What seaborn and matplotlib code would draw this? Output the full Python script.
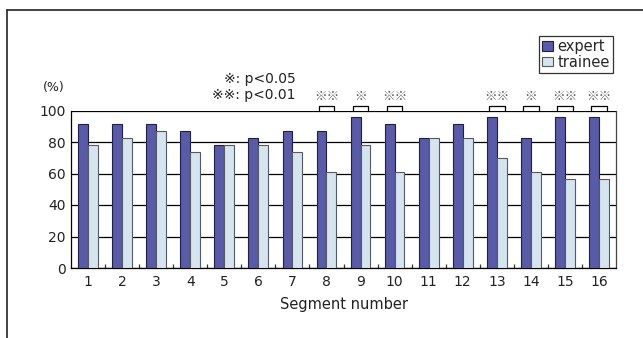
import matplotlib
matplotlib.use("Agg")
import matplotlib.pyplot as plt
import seaborn as sns
import pandas as pd

segments = [str(i) for i in range(1, 17)]
expert = [91.3, 91.3, 91.3, 87.0, 78.3, 82.6, 87.0, 87.0,
          95.7, 91.3, 82.6, 91.3, 95.7, 82.6, 95.7, 95.7]
trainee = [78.3, 82.6, 87.0, 73.9, 78.3, 78.3, 73.9, 60.9,
           78.3, 60.9, 82.6, 82.6, 69.6, 60.9, 56.5, 56.5]
# significance marks per segment ("" = not significant)
marks = ["", "", "", "", "", "", "", "※※",
         "※", "※※", "", "", "※※", "※", "※※", "※※"]
groups = ["expert", "trainee"]
y_ticks = [0, 20, 40, 60, 80, 100]

sns.set_theme(style="white")
plt.rcParams["font.family"] = ["DejaVu Sans", "Noto Sans CJK JP"]
cjk = ["Noto Sans CJK JP", "DejaVu Sans"]

df = pd.DataFrame({
    "segment": segments * 2,
    "value": expert + trainee,
    "group": [groups[0]] * len(segments) + [groups[1]] * len(segments),
})

fig = plt.figure(figsize=(6.43, 3.38), dpi=100)
ax = fig.add_axes([71 / 643, 1 - 268 / 338, (616 - 71) / 643, (268 - 110.5) / 338])

palette = {"expert": "#5a5ba6", "trainee": "#d5e4ee"}
sns.barplot(data=df, x="segment", y="value", hue="group", palette=palette,
            width=0.58, gap=0, saturation=1, ax=ax, zorder=3, legend=True)

edge_cols = {0: "#1e1f4a", 1: "#555a60"}
for i, cont in enumerate(ax.containers):
    for bar in cont:
        bar.set_edgecolor(edge_cols[i])
        bar.set_linewidth(0.8)

ax.set_ylim(0, 100)
ax.set_xlim(-0.5, len(segments) - 0.5)
ax.set_yticks(y_ticks)
ax.yaxis.grid(True, color="black", linewidth=0.9, zorder=0)
ax.set_axisbelow(True)
for side in ["left", "bottom", "right"]:
    ax.spines[side].set_visible(True)
    ax.spines[side].set_color("black")
    ax.spines[side].set_linewidth(0.9)
ax.spines["top"].set_visible(False)
ax.spines["right"].set_color("#444444")

ax.tick_params(axis="y", length=0, pad=4, labelsize=10, colors="#222222")
ax.tick_params(axis="x", which="major", length=0, pad=5, labelsize=10, colors="#222222")
ax.set_xticks([i + 0.5 for i in range(len(segments) - 1)], minor=True)
ax.tick_params(axis="x", which="minor", direction="in", length=3, width=0.9,
               color="#333333", bottom=True)
ax.set_xlabel("Segment number", fontsize=10.5, labelpad=6, color="#222222")
ax.set_ylabel("")

# significance brackets above the compared bar pairs
offs = 0.23
for i, m in enumerate(marks):
    if not m:
        continue
    x0, x1 = i - offs, i + offs
    ax.plot([x0, x0, x1, x1], [100, 102.8, 102.8, 100], color="black",
            linewidth=0.9, clip_on=False, zorder=5)
    ax.text(i, 108.6, m, ha="center", va="center", fontsize=9, color="#555555",
            family=cjk, clip_on=False)

fig.text(43 / 643, 1 - 88 / 338, "(%)", fontsize=9, va="center", ha="left", color="#222222")
fig.text(296 / 643, 1 - 79 / 338, "※: p<0.05", fontsize=10, va="center", ha="right", color="#222222")
fig.text(296 / 643, 1 - 95 / 338, "※※: p<0.01", fontsize=10, va="center", ha="right", color="#222222")

leg = ax.legend(loc="upper right", bbox_to_anchor=(613 / 643, 1 - 36 / 338),
                bbox_transform=fig.transFigure, frameon=True, fancybox=False,
                fontsize=10.5, handlelength=0.8, handleheight=0.65, handletextpad=0.3,
                borderpad=0.2, labelspacing=0.05, borderaxespad=0)
leg.get_frame().set_edgecolor("black")
leg.get_frame().set_linewidth(0.9)
for h, c in zip(leg.legend_handles, edge_cols.values()):
    h.set_edgecolor(c)
    h.set_linewidth(0.8)

# outer frame lines (top and left edges)
fig.add_artist(plt.Line2D([7 / 643, 1], [1 - 10 / 338, 1 - 10 / 338],
                          color="#222222", linewidth=1.2, transform=fig.transFigure))
fig.add_artist(plt.Line2D([7 / 643, 7 / 643], [0, 1 - 10 / 338],
                          color="#222222", linewidth=1.2, transform=fig.transFigure))

fig.savefig("out.png", dpi=100)
